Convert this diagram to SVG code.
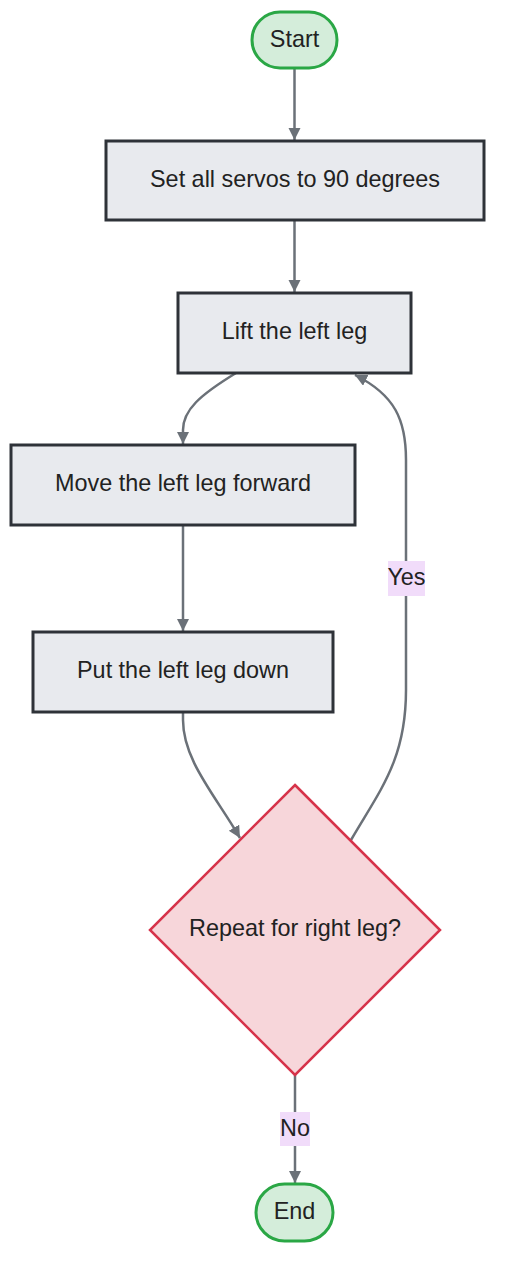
<svg xmlns="http://www.w3.org/2000/svg" width="507" height="1280" viewBox="0 0 507 1280">
<style>
text{font-family:"Liberation Sans",Arial,sans-serif;font-size:23.4px;fill:#222;text-anchor:middle;dominant-baseline:central}
.box{fill:#e8eaee;stroke:#2e3238;stroke-width:3}
.term{fill:#d4edda;stroke:#2aa745;stroke-width:3}
.dec{fill:#f7d6da;stroke:#d6334a;stroke-width:2.5}
.edge{fill:none;stroke:#6b7178;stroke-width:2.5}
.lbl{fill:#f1dcfa}
</style>
<defs>
<marker id="arr" markerUnits="userSpaceOnUse" markerWidth="14" markerHeight="14" refX="12" refY="6" orient="auto">
<path d="M0,0 L12,6 L0,12 Z" fill="#6b7178"/>
</marker>
</defs>
<g id="edges">
<path class="edge" d="M294.5,68 L294.5,140" marker-end="url(#arr)"/>
<path class="edge" d="M294.5,220 L294.5,292" marker-end="url(#arr)"/>
<path class="edge" d="M236,373 C200,395 183,410 183,430 L183,444" marker-end="url(#arr)"/>
<path class="edge" d="M183,525 L183,631" marker-end="url(#arr)"/>
<path class="edge" d="M183,712 L183,720 C183,760 215,795 240,838" marker-end="url(#arr)"/>
<path class="edge" d="M351,840 C380,790 406,760 406,690 L406,460 C406,420 395,395 355,375" marker-end="url(#arr)"/>
<path class="edge" d="M295,1075 L295,1183" marker-end="url(#arr)"/>
<rect class="lbl" x="388" y="561" width="37" height="35"/>
<text x="406.5" y="577">Yes</text>
<rect class="lbl" x="280" y="1112" width="30" height="34"/>
<text x="295" y="1128">No</text>
</g>
<g id="start">
<rect class="term" x="252" y="12" width="85" height="56" rx="28" ry="28"/>
<text x="294.5" y="39">Start</text>
</g>
<g id="setServos">
<rect class="box" x="106" y="141" width="378" height="79"/>
<text x="295" y="179">Set all servos to 90 degrees</text>
</g>
<g id="liftLeft">
<rect class="box" x="178" y="293" width="233" height="80"/>
<text x="294.5" y="331">Lift the left leg</text>
</g>
<g id="moveLeft">
<rect class="box" x="11" y="445" width="344" height="80"/>
<text x="183" y="483">Move the left leg forward</text>
</g>
<g id="putDown">
<rect class="box" x="33" y="632" width="300" height="80"/>
<text x="183" y="670">Put the left leg down</text>
</g>
<g id="repeat">
<polygon class="dec" points="295,785 440,930 295,1075 150,930"/>
<text x="295" y="928">Repeat for right leg?</text>
</g>
<g id="end">
<rect class="term" x="256" y="1184" width="77" height="57" rx="28.5" ry="28.5"/>
<text x="294.5" y="1211">End</text>
</g>
</svg>
